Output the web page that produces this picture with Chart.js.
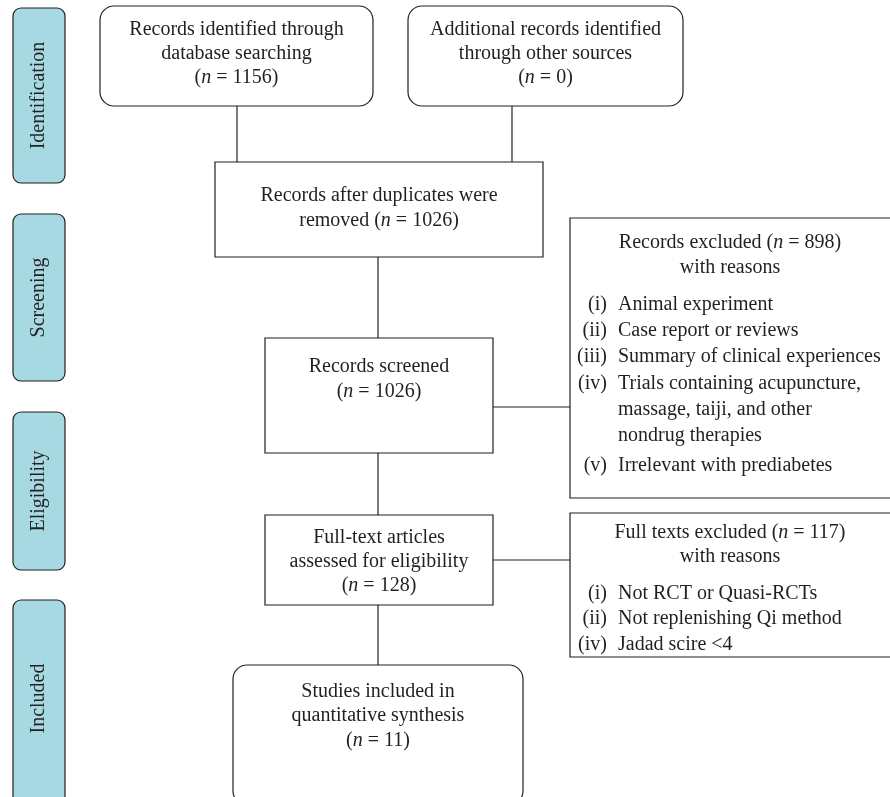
<!DOCTYPE html>
<html lang="en">
<head>
<meta charset="UTF-8">
<title>PRISMA flow diagram</title>
<script src="https://cdn.jsdelivr.net/npm/chart.js@4/dist/chart.umd.min.js"></script>
<style>
  html, body { margin: 0; padding: 0; background: #fff; }
  #wrap { width: 890px; height: 797px; }
</style>
</head>
<body>
<div id="wrap"><canvas id="flow"></canvas></div>
<script>
// Phase labels down the left side
const stageNames = ['Identification', 'Screening', 'Eligibility', 'Included'];
// Counts shown in each box
const boxCounts = [1156, 0, 1026, 1026, 898, 128, 117, 11];
// Box titles (before the count)
const boxTitles = [
  ['Records identified through', 'database searching'],
  ['Additional records identified', 'through other sources'],
  ['Records after duplicates were'],
  ['Records screened'],
  ['Records excluded'],
  ['Full-text articles', 'assessed for eligibility'],
  ['Full texts excluded'],
  ['Studies included in', 'quantitative synthesis']
];
const reasonLabels1 = ['(i)', '(ii)', '(iii)', '(iv)', '', '', '(v)'];
const reasonTexts1 = ['Animal experiment', 'Case report or reviews', 'Summary of clinical experiences',
  'Trials containing acupuncture,', 'massage, taiji, and other', 'nondrug therapies', 'Irrelevant with prediabetes'];
const reasonLabels2 = ['(i)', '(ii)', '(iv)'];
const reasonTexts2 = ['Not RCT or Quasi-RCTs', 'Not replenishing Qi method', 'Jadad scire <4'];

// layout (chart units, y grows downward)
const stageBoxes = [[13, 8, 65, 183], [13, 214, 65, 381], [13, 412, 65, 570], [13, 600, 65, 805]];
const boxes = [
  { r: [100, 6, 373, 106], round: true, lines: [30, 54, 78] },
  { r: [408, 6, 683, 106], round: true, lines: [30, 54, 78] },
  { r: [215, 162, 543, 257], lines: [196, 221] },
  { r: [265, 338, 493, 453], lines: [367, 392] },
  { r: [570, 218, 895, 498] },
  { r: [265, 515, 493, 605], lines: [538, 562, 586] },
  { r: [570, 513, 895, 657] },
  { r: [233, 665, 523, 805], round: true, lines: [692, 716, 741] }
];
const connectors = [
  [[237, 106], [237, 162]], [[512, 106], [512, 162]],
  [[378, 257], [378, 338]], [[493, 407], [570, 407]],
  [[378, 453], [378, 515]], [[493, 560], [570, 560]],
  [[378, 605], [378, 665]]
];

const FONT = '"Liberation Serif", "DejaVu Serif", serif';
const SIZE = 20;

function richLine(ctx, text, cx, y, align) {
  // italic n in "(n = ...)"
  const parts = text.split(/(\bn\b(?= =))/);
  ctx.textBaseline = 'middle';
  let total = 0;
  const segs = parts.map(p => {
    const it = /^n$/.test(p);
    ctx.font = (it ? 'italic ' : '') + SIZE + 'px ' + FONT;
    const w = ctx.measureText(p).width;
    total += w;
    return { p, it, w };
  });
  let x = align === 'left' ? cx : cx - total / 2;
  ctx.textAlign = 'left';
  segs.forEach(s => {
    ctx.font = (s.it ? 'italic ' : '') + SIZE + 'px ' + FONT;
    ctx.fillText(s.p, x, y);
    x += s.w;
  });
}

const flowPlugin = {
  id: 'flow',
  afterDraw(chart) {
    const ctx = chart.ctx, xs = chart.scales.x, ys = chart.scales.y;
    const X = v => xs.getPixelForValue(v), Y = v => ys.getPixelForValue(v);
    ctx.save();
    ctx.strokeStyle = '#231f20';
    ctx.fillStyle = '#231f20';
    ctx.lineWidth = 1.2;

    // stage tabs
    stageBoxes.forEach((r, i) => {
      ctx.beginPath();
      ctx.roundRect(X(r[0]), Y(r[1]), X(r[2]) - X(r[0]), Y(r[3]) - Y(r[1]), 8);
      ctx.fillStyle = '#a6d9e2';
      ctx.fill();
      ctx.stroke();
      const bottom = Math.min(Y(r[3]), 797);
      ctx.save();
      ctx.translate((X(r[0]) + X(r[2])) / 2, (Y(r[1]) + bottom) / 2);
      ctx.rotate(-Math.PI / 2);
      ctx.fillStyle = '#231f20';
      ctx.font = SIZE + 'px ' + FONT;
      ctx.textAlign = 'center';
      ctx.textBaseline = 'middle';
      ctx.fillText(stageNames[i], 0, 0);
      ctx.restore();
    });

    // connectors
    connectors.forEach(c => {
      ctx.beginPath();
      ctx.moveTo(X(c[0][0]), Y(c[0][1]));
      ctx.lineTo(X(c[1][0]), Y(c[1][1]));
      ctx.stroke();
    });

    // boxes
    boxes.forEach((b, i) => {
      const r = b.r;
      ctx.beginPath();
      if (b.round) ctx.roundRect(X(r[0]), Y(r[1]), X(r[2]) - X(r[0]), Y(r[3]) - Y(r[1]), 14);
      else ctx.rect(X(r[0]), Y(r[1]), X(r[2]) - X(r[0]), Y(r[3]) - Y(r[1]));
      ctx.fillStyle = '#fff';
      ctx.fill();
      ctx.stroke();
      ctx.fillStyle = '#231f20';
      if (!b.lines) return;
      const cx = X((r[0] + r[2]) / 2);
      let texts = boxTitles[i].slice();
      if (i === 2) texts.push('removed (n = ' + boxCounts[i] + ')');
      else texts.push('(n = ' + boxCounts[i] + ')');
      texts.forEach((t, k) => richLine(ctx, t, cx, Y(b.lines[k])));
    });

    // exclusion boxes
    const exLines1 = [243, 268, 305, 331, 357, 384, 410, 436, 466];
    const cx1 = X(730);
    richLine(ctx, boxTitles[4][0] + ' (n = ' + boxCounts[4] + ')', cx1, Y(exLines1[0]));
    richLine(ctx, 'with reasons', cx1, Y(exLines1[1]));
    reasonTexts1.forEach((t, k) => {
      ctx.font = SIZE + 'px ' + FONT;
      ctx.textAlign = 'right';
      ctx.fillText(reasonLabels1[k], X(607), Y(exLines1[k + 2]));
      richLine(ctx, t, X(618), Y(exLines1[k + 2]), 'left');
    });
    const exLines2 = [533, 557, 594, 619, 645];
    richLine(ctx, boxTitles[6][0] + ' (n = ' + boxCounts[6] + ')', cx1, Y(exLines2[0]));
    richLine(ctx, 'with reasons', cx1, Y(exLines2[1]));
    reasonTexts2.forEach((t, k) => {
      ctx.font = SIZE + 'px ' + FONT;
      ctx.textAlign = 'right';
      ctx.fillText(reasonLabels2[k], X(607), Y(exLines2[k + 2]));
      richLine(ctx, t, X(618), Y(exLines2[k + 2]), 'left');
    });
    ctx.restore();
  }
};

new Chart(document.getElementById('flow'), {
  type: 'scatter',
  data: { datasets: [{ data: [], pointRadius: 0 }] },
  options: {
    responsive: true,
    maintainAspectRatio: false,
    animation: false,
    layout: { padding: 0 },
    plugins: { legend: { display: false }, tooltip: { enabled: false } },
    scales: {
      x: { type: 'linear', min: 0, max: 890, display: false },
      y: { type: 'linear', min: 0, max: 797, reverse: true, display: false }
    }
  },
  plugins: [flowPlugin]
});
</script>
</body>
</html>
